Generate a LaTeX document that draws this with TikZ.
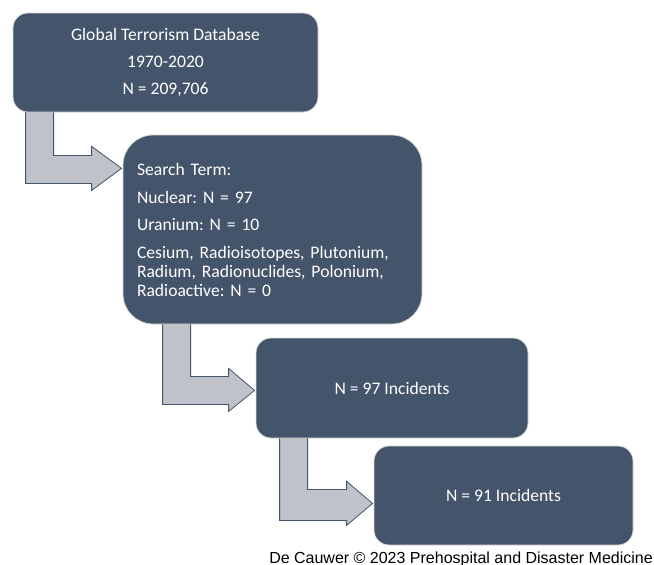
\documentclass[tikz,border=0pt]{standalone}
\usepackage{fontspec}
\setmainfont{Carlito}
\newfontfamily\creditfont{Liberation Sans}
\usetikzlibrary{calc,backgrounds}
\definecolor{boxblue}{HTML}{44546A}
\definecolor{arrowgray}{HTML}{BFC3C9}
\definecolor{boxline}{HTML}{D9D9D9}
\frenchspacing

\begin{document}
\begin{tikzpicture}[x=1pt,y=-1pt,
  stage/.style={draw=boxline, line width=0.8pt, fill=boxblue, text=white,
    rounded corners=15pt, inner sep=0pt, font=\fontsize{17.6}{19}\selectfont},
  elbow/.style={draw=boxblue, line width=0.8pt, fill=arrowgray, line join=miter}]

\useasboundingbox (0,0) rectangle (654,565);

% Stage 1
\node[stage, minimum width=305pt, minimum height=99pt, align=center] (db) at (165.5,62.5)
  {Global Terrorism Database\\[8pt]1970-2020\\[8pt]N = 209,706};

% Stage 2
\node[stage, rounded corners=30pt, minimum width=299pt, minimum height=189pt,
  text width=271pt, align=left] (search) at (272.5,229.5)
  {Search Term:\\[9pt]Nuclear: N = 97\\[8pt]Uranium: N = 10\\[9pt]Cesium, Radioisotopes, Plutonium,\\Radium, Radionuclides, Polonium,\\Radioactive: N = 0};

% Stage 3
\node[stage, minimum width=272pt, minimum height=100pt] (incidents) at (392,388) {N = 97 Incidents};

% Stage 4
\node[stage, minimum width=259pt, minimum height=99pt] (final) at (503.5,495.5) {N = 91 Incidents};

% Bent arrows
\begin{scope}[on background layer]
\draw[elbow] ($(db.south west)+(13,-1)$) -- ++(0,72) -- ++(66,0) -- ++(0,7) -- ++(30,-22)
  -- ++(-30,-22) -- ++(0,9) -- ++(-38,0) -- ++(0,-44) -- cycle;
\draw[elbow] ($(search.south west)+(40,-1)$) -- ++(0,81) -- ++(66,0) -- ++(0,7) -- ++(26,-21)
  -- ++(-26,-22) -- ++(0,8) -- ++(-38,0) -- ++(0,-53) -- cycle;
\draw[elbow] ($(incidents.south west)+(24,-1)$) -- ++(0,83) -- ++(67,0) -- ++(0,5) -- ++(26,-22)
  -- ++(-26,-22) -- ++(0,8) -- ++(-39,0) -- ++(0,-52) -- cycle;
\end{scope}

% Credit line
\node[anchor=base east, inner sep=0pt, font=\creditfont\fontsize{16}{19}\selectfont] (credit)
  at (653,563) {De Cauwer © 2023 Prehospital and Disaster Medicine};

\end{tikzpicture}
\end{document}
